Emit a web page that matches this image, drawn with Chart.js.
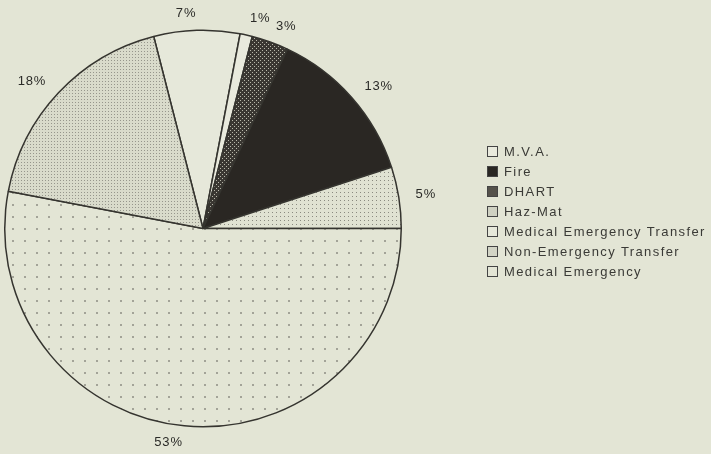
<!DOCTYPE html>
<html>
<head>
<meta charset="utf-8">
<script src="https://cdn.jsdelivr.net/npm/chart.js@4"></script>
<style>
  body { margin: 0; background: #e3e5d5; }
  #wrap { position: relative; width: 711px; height: 454px; }
  #legend { position: absolute; left: 487px; top: 142px; font: 13px "Liberation Sans", Arial, sans-serif; letter-spacing: 1.4px; color: #3a3a36; }
  #legend div { height: 20px; line-height: 20px; white-space: nowrap; }
  #legend span { display: inline-block; width: 9px; height: 9px; border: 1px solid #444; margin-right: 6px; vertical-align: -1px; }
</style>
</head>
<body>
<div id="wrap">
  <canvas id="c" width="711" height="454"></canvas>
  <div id="legend"></div>
</div>
<script>
// slices in drawing order (clockwise)
const categories = ['Medical Emergency Transfer', 'M.V.A.', 'DHART', 'Fire', 'Haz-Mat', 'Medical Emergency', 'Non-Emergency Transfer']
const percents = [7, 1, 3, 13, 5, 53, 18]
const legendOrder = ['M.V.A.', 'Fire', 'DHART', 'Haz-Mat', 'Medical Emergency Transfer', 'Non-Emergency Transfer', 'Medical Emergency']

function dots(bg, dot, step, size) {
    const c = document.createElement('canvas')
    c.width = c.height = step
    const x = c.getContext('2d')
    x.fillStyle = bg
    x.fillRect(0, 0, step, step)
    x.fillStyle = dot
    x.fillRect(0, 0, size, size)
    return x.createPattern(c, 'repeat')
}

function speckle() {
    const c = document.createElement('canvas')
    c.width = c.height = 4
    const x = c.getContext('2d')
    x.fillStyle = '#3a3732'
    x.fillRect(0, 0, 4, 4)
    x.fillStyle = '#b8b8aa'
    x.fillRect(0, 0, 1, 1)
    x.fillRect(2, 2, 1, 1)
    return x.createPattern(c, 'repeat')
}

const fills = {
    'Medical Emergency Transfer': '#e6e8da',
    'M.V.A.': '#e9eadd',
    'DHART': speckle(),
    'Fire': '#2a2723',
    'Haz-Mat': dots('#e0e2d2', '#8a8a80', 4, 1),
    'Medical Emergency': dots('#e3e5d5', '#a3a398', 12, 2),
    'Non-Emergency Transfer': dots('#d9dbcb', '#96968c', 3, 1),
}
const swatch = {
    'Medical Emergency Transfer': '#e6e8da',
    'M.V.A.': '#e9eadd',
    'DHART': '#55524b',
    'Fire': '#2a2723',
    'Haz-Mat': '#cfd1c2',
    'Medical Emergency': '#e3e5d5',
    'Non-Emergency Transfer': '#d2d4c5',
}

const pctLabels = {
    id: 'pctLabels',
    afterDatasetsDraw(chart) {
        const ctx = chart.ctx
        ctx.save()
        ctx.font = '13px "Liberation Sans", Arial, sans-serif'
        ctx.letterSpacing = '0.8px'
        ctx.fillStyle = '#2b2b28'
        ctx.textBaseline = 'middle'
        chart.getDatasetMeta(0).data.forEach((arc, i) => {
            const mid = (arc.startAngle + arc.endAngle) / 2
            const r = arc.outerRadius + 17
            const x = arc.x + Math.cos(mid) * r
            const y = arc.y + Math.sin(mid) * r
            ctx.textAlign = x < arc.x ? 'right' : 'left'
            ctx.fillText(percents[i] + '%', x, y)
        })
        ctx.restore()
    }
}

new Chart(document.getElementById('c'), {
    type: 'pie',
    data: {
        labels: categories,
        datasets: [{
            data: percents,
            backgroundColor: categories.map(c => fills[c]),
            borderColor: '#35342f',
            borderWidth: 1.5,
        }]
    },
    options: {
        responsive: false,
        devicePixelRatio: 1,
        animation: false,
        rotation: -14.4,
        layout: { padding: { left: 4, top: 29, right: 309, bottom: 26 } },
        plugins: {
            legend: { display: false },
            tooltip: { enabled: false },
        }
    },
    plugins: [pctLabels]
})

const legend = document.getElementById('legend')
legendOrder.forEach(name => {
    const row = document.createElement('div')
    const box = document.createElement('span')
    box.style.background = swatch[name]
    row.appendChild(box)
    row.appendChild(document.createTextNode(name))
    legend.appendChild(row)
})
</script>
</body>
</html>
